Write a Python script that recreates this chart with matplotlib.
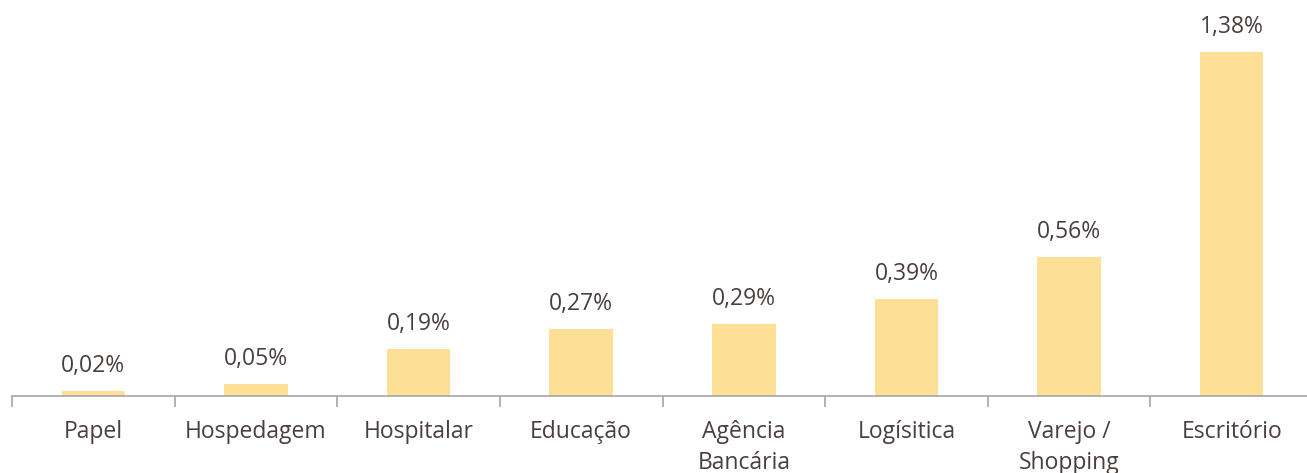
import matplotlib.pyplot as plt
import numpy as np

# data
categorias = ["Papel", "Hospedagem", "Hospitalar", "Educação", "Agência\nBancária",
              "Logísitica", "Varejo /\nShopping", "Escritório"]
valores = [0.02, 0.05, 0.19, 0.27, 0.29, 0.39, 0.56, 1.38]
rotulos = ["0,02%", "0,05%", "0,19%", "0,27%", "0,29%", "0,39%", "0,56%", "1,38%"]

txt = "#4a3f3f"
plt.rcParams['font.family'] = ['Open Sans', 'DejaVu Sans']

fig = plt.figure(figsize=(13.07, 4.73), dpi=100)
ax = fig.add_axes([12/1307, 77/473, 1301/1307, 386/473])

x = np.arange(len(categorias))
ax.bar(x, valores, width=0.39, color="#FEDF96")

for xi, v, r in zip(x, valores, rotulos):
    ax.text(xi, v + 0.052, r, ha="center", va="bottom", fontsize=16.5, color=txt)

ax.set_xlim(-0.5, len(categorias) - 0.5)
ax.set_ylim(0, 386/249)

for s in ["top", "right", "left"]:
    ax.spines[s].set_visible(False)
ax.spines["bottom"].set_color("#a6a6a6")
ax.spines["bottom"].set_linewidth(1.2)
ax.set_yticks([])

ax.set_xticks(x)
ax.set_xticklabels(categorias, fontsize=16.5, color=txt, linespacing=1.4)
ax.tick_params(axis="x", which="major", length=0, pad=17)
ax.set_xticks(np.arange(-0.5, len(categorias)), minor=True)
ax.tick_params(axis="x", which="minor", length=8, width=1.2, color="#a6a6a6")
for lbl in ax.get_xticklabels():
    lbl.set_verticalalignment("top")

fig.savefig("out.png", dpi=100)
